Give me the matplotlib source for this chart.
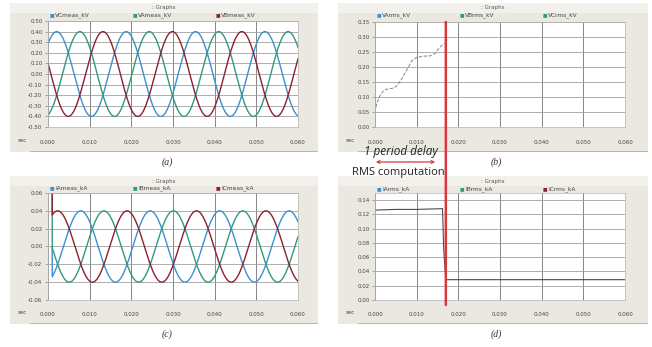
import numpy as np
import matplotlib
matplotlib.use("Agg")
import matplotlib.pyplot as plt
from matplotlib.patches import Rectangle, ConnectionPatch, FancyArrowPatch

# sinusoid parameters (a) and (c)
freq = 60.0
v_amp = 0.40
i_amp = 0.04
v_names = ["VCmeas_kV", "VAmeas_kV", "VBmeas_kV"]
v_phase_deg = [45, -75, 165]
i_names = ["IAmeas_kA", "IBmeas_kA", "ICmeas_kA"]
i_phase_deg = [-80, 160, 40]
i_start = 0.001
i_init = [0.0, 0.06, 0.06]

# rms traces, panels (b) and (d)
rms_v_names = ["VArms_kV", "VBrms_kV", "VCrms_kV"]
va_rms_t = [0, 0.0004, 0.0012, 0.002, 0.0028, 0.0036, 0.0046, 0.0054, 0.0064,
            0.0076, 0.0088, 0.010, 0.0116, 0.0132, 0.0144, 0.0152, 0.016, 0.0168]
va_rms = [0.05, 0.078, 0.105, 0.12, 0.126, 0.128, 0.13, 0.14, 0.16,
          0.19, 0.22, 0.232, 0.236, 0.237, 0.245, 0.26, 0.272, 0.278]
rms_i_names = ["IArms_kA", "IBrms_kA", "ICrms_kA"]
ia_rms_t = [0, 0.005, 0.010, 0.016, 0.0162, 0.0165, 0.0170, 0.0172, 0.06]
ia_rms = [0.126, 0.127, 0.127, 0.128, 0.128, 0.07, 0.0285, 0.0285, 0.0285]
delay_t = 0.017

x_ticks = [0.0, 0.01, 0.02, 0.03, 0.04, 0.05, 0.06]
yticks_a = [0.5, 0.4, 0.3, 0.2, 0.1, 0.0, -0.1, -0.2, -0.3, -0.4, -0.5]
yticks_b = [0.0, 0.05, 0.10, 0.15, 0.20, 0.25, 0.30, 0.35]
yticks_c = [0.06, 0.04, 0.02, 0.0, -0.02, -0.04, -0.06]
yticks_d = [0.0, 0.02, 0.04, 0.06, 0.08, 0.10, 0.12, 0.14]

blue = "#3d8fcf"
green = "#2f9a7c"
red = "#8c2030"
frame_col = "#ebe8e1"

W, H = 652, 347
fig = plt.figure(figsize=(W / 100, H / 100), dpi=100)


def box(l, t, r, b):
    return [l / W, 1 - b / H, (r - l) / W, (b - t) / H]


def frame(l, t, r, b, label):
    fig.add_artist(Rectangle((l / W, 1 - b / H), (r - l) / W, (b - t) / H,
                             transform=fig.transFigure, facecolor=frame_col,
                             edgecolor="none", zorder=-2))
    fig.add_artist(Rectangle((l / W, 1 - (t + 10) / H), (r - l) / W, 10 / H,
                             transform=fig.transFigure, facecolor="#f3f1ec",
                             edgecolor="none", zorder=-1))
    # darker strip along the bottom of the frame
    fig.add_artist(Rectangle(((l + 20) / W, 1 - b / H), (r - l - 20) / W, 1.2 / H,
                             transform=fig.transFigure, facecolor="#b9b6ae",
                             edgecolor="none", zorder=-1))
    fig.text((l + r) / 2 / W, 1 - (t + 5) / H, ": Graphs", fontsize=4,
             color="#555555", ha="center", va="center")
    fig.text((l + r) / 2 / W + 0.005, 1 - (b + 10) / H, label, fontsize=7,
             family="Liberation Serif", style="italic", color="#333333",
             ha="center", va="center")


def legend(x0, y, names, colors):
    for k, (n, c) in enumerate(zip(names, colors)):
        x = x0 + k * 83
        fig.text(x / W, 1 - y / H, "\u25a0", fontsize=3.5, color=c,
                 ha="left", va="center")
        fig.text((x + 5) / W, 1 - y / H, n, fontsize=4.2, color="#444444",
                 ha="left", va="center")


def style(ax, yticks, fmt, sec_x):
    ax.set_xlim(0, 0.06)
    ax.set_xticks(x_ticks)
    ax.set_xticklabels(["%.3f" % v for v in x_ticks])
    ax.set_yticks(yticks)
    ax.set_yticklabels([fmt % v for v in yticks])
    ax.tick_params(axis="x", length=0, pad=9, labelsize=4, labelcolor="#444444")
    ax.tick_params(axis="y", length=2, width=0.5, color="#888888", pad=2,
                   labelsize=4, labelcolor="#444444")
    ax.grid(True, axis="y", color="#a0a0a0", lw=0.6)
    ax.grid(True, axis="x", color="#858585", lw=0.7)
    ax.set_axisbelow(True)
    for s in ax.spines.values():
        s.set_color("#b5b5b5")
        s.set_linewidth(0.5)
    pos = ax.get_position()
    fig.text(sec_x / W, pos.y0 - 13 / H, "sec", fontsize=4, color="#444444",
             ha="left", va="center")


frame(10, 3, 318, 152, "(a)")
frame(338, 3, 648, 152, "(b)")
frame(10, 176, 318, 324, "(c)")
frame(338, 176, 648, 324, "(d)")

t = np.linspace(0, 0.06, 2000)
w = 2 * np.pi * freq

# (a) voltages
ax_a = fig.add_axes(box(48, 21, 298, 127))
for ph, c in zip(v_phase_deg, [blue, green, red]):
    ax_a.plot(t, v_amp * np.sin(w * t + np.radians(ph)), color=c, lw=1.0)
ax_a.set_ylim(-0.5, 0.5)
style(ax_a, yticks_a, "%.2f", 18)
legend(50, 15, v_names, [blue, green, red])

# (b) rms voltage
ax_b = fig.add_axes(box(375, 22, 625, 127))
ax_b.plot(va_rms_t, va_rms, color="#8a9696", lw=0.8, ls=(0, (3, 1.5)))
ax_b.set_ylim(0, 0.35)
style(ax_b, yticks_b, "%.2f", 346)
legend(377, 15, rms_v_names, [blue, green, green])

# (c) currents
ax_c = fig.add_axes(box(48, 193, 298, 300))
tc = t[t >= i_start]
for ph, c, y0 in zip(i_phase_deg, [blue, green, red], i_init):
    y = i_amp * np.sin(w * tc + np.radians(ph))
    ax_c.plot(np.r_[i_start, tc], np.r_[y0, y], color=c, lw=1.0)
ax_c.set_ylim(-0.06, 0.06)
style(ax_c, yticks_c, "%.2f", 18)
legend(50, 188, i_names, [blue, green, red])

# (d) rms current
ax_d = fig.add_axes(box(375, 193, 625, 300))
ax_d.plot(ia_rms_t, ia_rms, color="#4a4a4a", lw=0.8)
ax_d.set_ylim(0, 0.15)
style(ax_d, yticks_d, "%.2f", 346)
legend(377, 189, rms_i_names, [blue, green, red])

# one period delay marker
con = ConnectionPatch(xyA=(delay_t, 0.35), coordsA="data", axesA=ax_b,
                      xyB=(delay_t, -0.007), coordsB="data", axesB=ax_d,
                      color="#d8383f", lw=1.8, zorder=10)
con.set_annotation_clip(False)
fig.add_artist(con)
fig.add_artist(FancyArrowPatch((373 / W, 1 - 162 / H), (438 / W, 1 - 162 / H),
                               transform=fig.transFigure, arrowstyle="<->",
                               mutation_scale=5, color="#d8383f", lw=0.9,
                               zorder=10))
fig.text(401 / W, 1 - 152 / H, "1 period delay", fontsize=8.5, style="italic",
         family="Open Sans", color="#222222", ha="center", va="center")
fig.text(398 / W, 1 - 172 / H, "RMS computation", fontsize=8,
         family="Open Sans", color="#222222", ha="center", va="center")

fig.savefig("out.png", dpi=100)
